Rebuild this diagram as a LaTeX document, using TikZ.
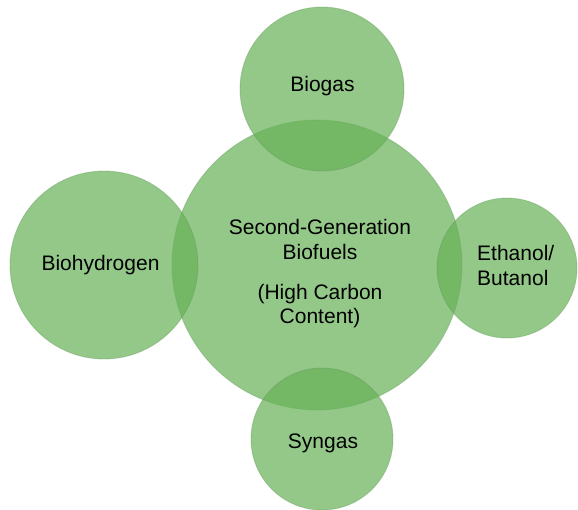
\documentclass[tikz,border=0pt]{standalone}
\usepackage{fontspec}
\setmainfont{Liberation Sans}
\definecolor{leaf}{RGB}{102,177,87}
\definecolor{rim}{RGB}{96,150,86}
\begin{document}
\begin{tikzpicture}[x=1pt,y=-1pt,
  bubble/.style={circle, inner sep=0pt, outer sep=0pt, fill=leaf, fill opacity=0.70,
    draw=rim, draw opacity=0.35, line width=0.9pt},
  lbl/.style={font=\fontsize{21}{25}\selectfont, text=black, inner sep=0pt, anchor=base}]
\useasboundingbox (0,0) rectangle (578,509);
\node[bubble, minimum size=290pt] (core) at (317,265) {};
\node[bubble, minimum size=164pt] (biogas) at (322,89) {};
\node[bubble, minimum size=188pt] (bioh) at (104,265) {};
\node[bubble, minimum size=140pt] (eth) at (507,268) {};
\node[bubble, minimum size=142pt] (syn) at (322,439) {};
% texts
\node[lbl] (t1) at (320,234) {Second-Generation};
\node[lbl] (t2) at (320,259) {Biofuels};
\node[lbl] (t3) at (320,299) {(High Carbon};
\node[lbl] (t4) at (320,323) {Content)};
\node[lbl] (tb) at (322.5,91) {Biogas};
\node[lbl] (th) at (100.5,270) {Biohydrogen};
\node[lbl, anchor=base west] (te1) at (477,260) {Ethanol/};
\node[lbl, anchor=base west] (te2) at (477,285) {Butanol};
\node[lbl] (ts) at (323,448) {Syngas};
\end{tikzpicture}
\end{document}
